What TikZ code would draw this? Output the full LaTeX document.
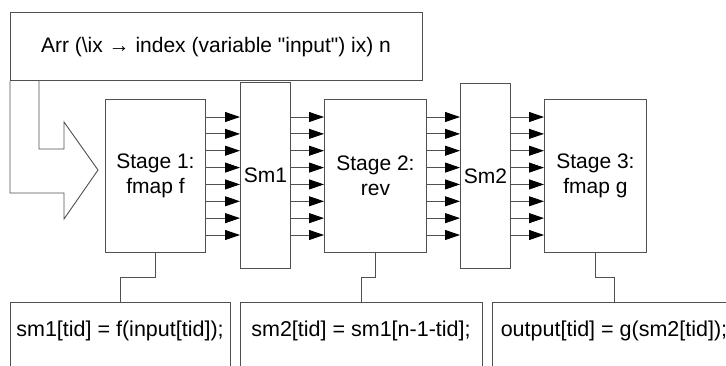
\documentclass[tikz,border=0pt]{standalone}
\usepackage{fontspec}
\setmainfont{Liberation Sans}[Ligatures=TeXOff]
\usetikzlibrary{arrows.meta}
\definecolor{boxline}{RGB}{80,80,80}
\tikzset{
  x=1pt, y=-1pt,
  box/.style={draw=boxline, line width=0.9pt, rectangle, inner sep=0pt, anchor=north west},
  lbl/.style={font=\fontsize{21}{25}\selectfont, align=center, inner sep=0pt},
  code/.style={font=\fontsize{21.5}{25}\selectfont, inner sep=0pt},
  wire/.style={draw=boxline, line width=0.9pt},
  flow/.style={draw=boxline, line width=0.9pt, -{Triangle[length=15pt,width=10pt,color=black,fill=black]}},
}
\begin{document}
\begin{tikzpicture}
\useasboundingbox (0,0) rectangle (726,365);
\clip (0,0) rectangle (726,365);
% top box
\node[box, minimum width=412pt, minimum height=68pt] (top) at (10,12) {};
\node[lbl] (toptext) at (216,47) {Arr (\textbackslash ix → index (variable "input") ix) n};
% bent input arrow
\draw[wire, line join=miter] (39,80) -- (39,149) -- (64,149) -- (64,122) -- (98,170)
  -- (64,219) -- (64,193) -- (10,193) -- (top.south west);
% stages and shared memories
\node[box, minimum width=100pt, minimum height=153pt] (s1) at (105,99) {};
\node[box, minimum width=50pt, minimum height=186pt] (m1) at (240,82) {};
\node[box, minimum width=102pt, minimum height=153pt] (s2) at (324,99) {};
\node[box, minimum width=50pt, minimum height=185pt] (m2) at (460,83) {};
\node[box, minimum width=102pt, minimum height=153pt] (s3) at (544,99) {};
\node[lbl] (s1t) at (s1.center) {Stage 1:\\fmap f};
\node[lbl] (m1t) at (m1.center) {Sm1};
\node[lbl] (s2t) at (s2.center) {Stage 2:\\rev};
\node[lbl] (m2t) at (m2.center) {Sm2};
\node[lbl] (s3t) at (s3.center) {Stage 3:\\fmap g};
% arrows between them
\foreach \i in {0,...,7}{
  \pgfmathsetmacro{\yy}{117+\i*16.857}
  \draw[flow] (s1.east |- 0,\yy) -- (m1.west |- 0,\yy);
  \draw[flow] (m1.east |- 0,\yy) -- (s2.west |- 0,\yy);
  \draw[flow] (s2.east |- 0,\yy) -- (m2.west |- 0,\yy);
  \draw[flow] (m2.east |- 0,\yy) -- (s3.west |- 0,\yy);
}
% code boxes
\node[box, minimum width=220pt, minimum height=80pt] (b1) at (10,302) {};
\node[box, minimum width=242pt, minimum height=80pt] (b2) at (240,302) {};
\node[box, minimum width=244pt, minimum height=80pt] (b3) at (492,302) {};
\node[code] (b1t) at (120,331) {sm1[tid] = f(input[tid]);};
\node[code] (b2t) at (361,331) {sm2[tid] = sm1[n-1-tid];};
\node[code] (b3t) at (614,331) {output[tid] = g(sm2[tid]);};
% connectors stage -> code
\draw[wire] (s1.south) -- ++(0,25) -| (b1.north);
\draw[wire] (s2.south) -- ++(0,25) -| (b2.north);
\draw[wire] (s3.south) -- ++(0,25) -| (b3.north);
\end{tikzpicture}
\end{document}
